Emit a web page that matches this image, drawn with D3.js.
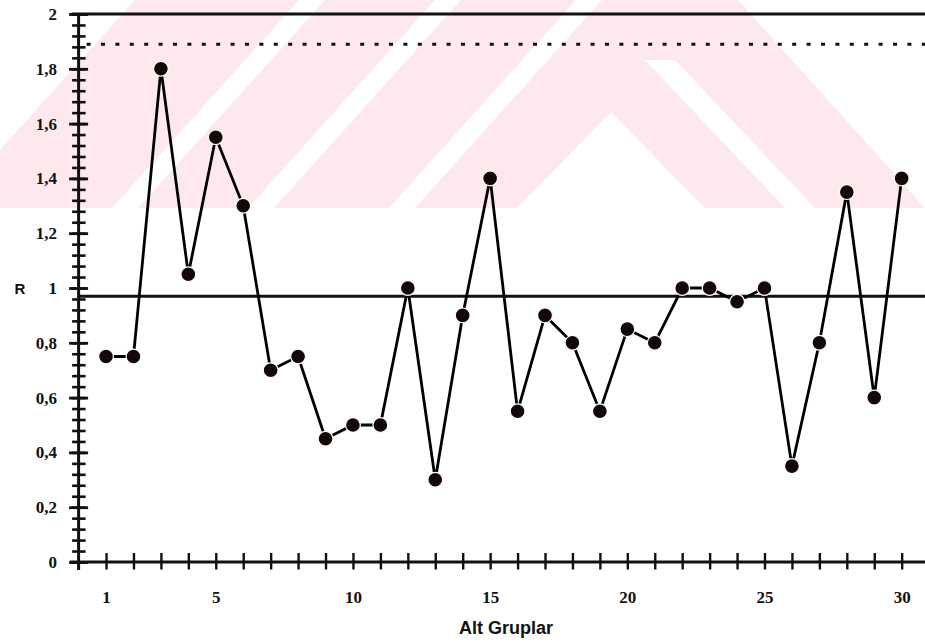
<!DOCTYPE html>
<html>
<head>
<meta charset="utf-8">
<script src="https://cdn.jsdelivr.net/npm/d3@7"></script>
<style>
  html, body { margin: 0; padding: 0; background: #fff; }
  svg { display: block; }
</style>
</head>
<body>
<script>
// Subgroup numbers on the x axis
const subgroups = [1, 2, 3, 4, 5, 6, 7, 8, 9, 10, 11, 12, 13, 14, 15,
                   16, 17, 18, 19, 20, 21, 22, 23, 24, 25, 26, 27, 28, 29, 30];
// Range (R) of each subgroup
const rangeValues = [0.75, 0.75, 1.80, 1.05, 1.55, 1.30, 0.70, 0.75, 0.45, 0.50,
                     0.50, 1.00, 0.30, 0.90, 1.40, 0.55, 0.90, 0.80, 0.55, 0.85,
                     0.80, 1.00, 1.00, 0.95, 1.00, 0.35, 0.80, 1.35, 0.60, 1.40];
// Control chart lines
const centreLine = 0.97;
const upperLimit = 1.89;
const axisTop = 2;
// Axis ticks and labels
const yMajorTicks = [0, 0.2, 0.4, 0.6, 0.8, 1, 1.2, 1.4, 1.6, 1.8, 2];
const yTickLabels = ["0", "0,2", "0,4", "0,6", "0,8", "1", "1,2", "1,4", "1,6", "1,8", "2"];
const yMinorStep = 0.04;
const xLabelledTicks = [1, 5, 10, 15, 20, 25, 30];
const xTitle = "Alt Gruplar";
const yTitle = "R";

const W = 925, H = 643;
const svg = d3.select("body").append("svg")
  .attr("width", W).attr("height", H)
  .attr("viewBox", `0 0 ${W} ${H}`);

// Faint background logo band
const logo = svg.append("g");
logo.append("rect").attr("x", 0).attr("y", 0).attr("width", W).attr("height", 208)
  .attr("fill", "#fde9ed");
const gaps = [
  [[0, 0], [135, 0], [0, 150]],
  [[738, 0], [W, 0], [W, 208]],
  [[611, 112], [517, 208], [705, 208]],
  [[645, 60], [675, 60], [815, 208], [785, 208]]
];
[312, 448, 589].forEach(c => {
  gaps.push([[c - 13, 0], [c + 13, 0], [c + 13 - 187, 208], [c - 13 - 187, 208]]);
});
logo.selectAll("polygon").data(gaps).join("polygon")
  .attr("points", d => d.map(p => p.join(",")).join(" "))
  .attr("fill", "#fff");

// Scales
const x = d3.scaleLinear().domain([0, 30.85]).range([78.6, 925]);
const y = d3.scaleLinear().domain([0, axisTop]).range([562, 14]);

const ink = "#111";
const serif = "'Liberation Serif', 'Times New Roman', serif";
const sans = "'Liberation Sans', Arial, sans-serif";

// Reference lines
svg.append("line")
  .attr("x1", x(0) - 7).attr("x2", W)
  .attr("y1", y(axisTop)).attr("y2", y(axisTop))
  .attr("stroke", ink).attr("stroke-width", 3);
svg.append("line")
  .attr("x1", x(0)).attr("x2", W)
  .attr("y1", y(centreLine)).attr("y2", y(centreLine))
  .attr("stroke", ink).attr("stroke-width", 3);
svg.append("line")
  .attr("x1", x(0) + 8).attr("x2", W)
  .attr("y1", y(upperLimit)).attr("y2", y(upperLimit))
  .attr("stroke", ink).attr("stroke-width", 3)
  .attr("stroke-dasharray", "4 10.4");

// Y axis: minor ticks
const yMinor = d3.range(0, axisTop + 1e-9, yMinorStep).map(v => +v.toFixed(2));
const gyMinor = svg.append("g").attr("transform", `translate(${x(0)},0)`)
  .call(d3.axisLeft(y).tickValues(yMinor).tickFormat("").tickSizeOuter(0).tickSize(6.5));
gyMinor.select(".domain").remove();
gyMinor.selectAll(".tick line").attr("x2", -6.5).attr("x1", 7)
  .attr("stroke", ink).attr("stroke-width", 2.6);

// Y axis: major ticks with labels
const gy = svg.append("g").attr("transform", `translate(${x(0)},0)`)
  .call(d3.axisLeft(y).tickValues(yMajorTicks)
    .tickFormat((d, i) => yTickLabels[i]).tickSizeOuter(0).tickSize(9.5).tickPadding(12));
gy.select(".domain").remove();
gy.selectAll(".tick line").attr("x2", -9.5).attr("x1", 9.5)
  .attr("stroke", ink).attr("stroke-width", 2.8);
gy.selectAll(".tick text")
  .attr("font-family", serif)
  .attr("font-weight", "bold").attr("font-size", 17).attr("fill", ink);

svg.append("line")
  .attr("x1", x(0)).attr("x2", x(0))
  .attr("y1", y(axisTop)).attr("y2", y(0) + 8)
  .attr("stroke", ink).attr("stroke-width", 3);

// X axis
const gx = svg.append("g").attr("transform", `translate(0,${y(0)})`)
  .call(d3.axisBottom(x).tickValues(subgroups)
    .tickFormat(d => xLabelledTicks.includes(d) ? d : "").tickSizeOuter(0).tickSize(7.5));
gx.select(".domain").remove();
gx.selectAll(".tick line").attr("y1", -9).attr("y2", 7.5)
  .attr("stroke", ink).attr("stroke-width", 2.4);
gx.selectAll(".tick text")
  .attr("y", 41).attr("dy", 0)
  .attr("font-family", serif)
  .attr("font-weight", "bold").attr("font-size", 17).attr("fill", ink);

svg.append("line")
  .attr("x1", x(0) - 8.5).attr("x2", W)
  .attr("y1", y(0)).attr("y2", y(0))
  .attr("stroke", ink).attr("stroke-width", 3);

// Axis titles
svg.append("text")
  .attr("x", 506).attr("y", 634)
  .attr("text-anchor", "middle")
  .attr("font-family", sans)
  .attr("font-weight", "bold").attr("font-size", 18).attr("fill", ink)
  .text(xTitle);
svg.append("text")
  .attr("x", 20).attr("y", y(1) + 6)
  .attr("text-anchor", "middle")
  .attr("font-family", sans)
  .attr("font-weight", "bold").attr("font-size", 15).attr("fill", ink)
  .text(yTitle);

// R series
const points = subgroups.map((g, i) => ({ g, r: rangeValues[i] }));
svg.append("path")
  .datum(points)
  .attr("fill", "none").attr("stroke", "#000").attr("stroke-width", 2.8)
  .attr("stroke-linejoin", "miter")
  .attr("d", d3.line().x(d => x(d.g)).y(d => y(d.r)));
svg.selectAll("circle.pt").data(points).join("circle")
  .attr("class", "pt")
  .attr("cx", d => x(d.g)).attr("cy", d => y(d.r))
  .attr("r", 7.4)
  .attr("fill", "#140707")
  .attr("stroke", "#fff").attr("stroke-width", 1.2);
</script>
</body>
</html>
